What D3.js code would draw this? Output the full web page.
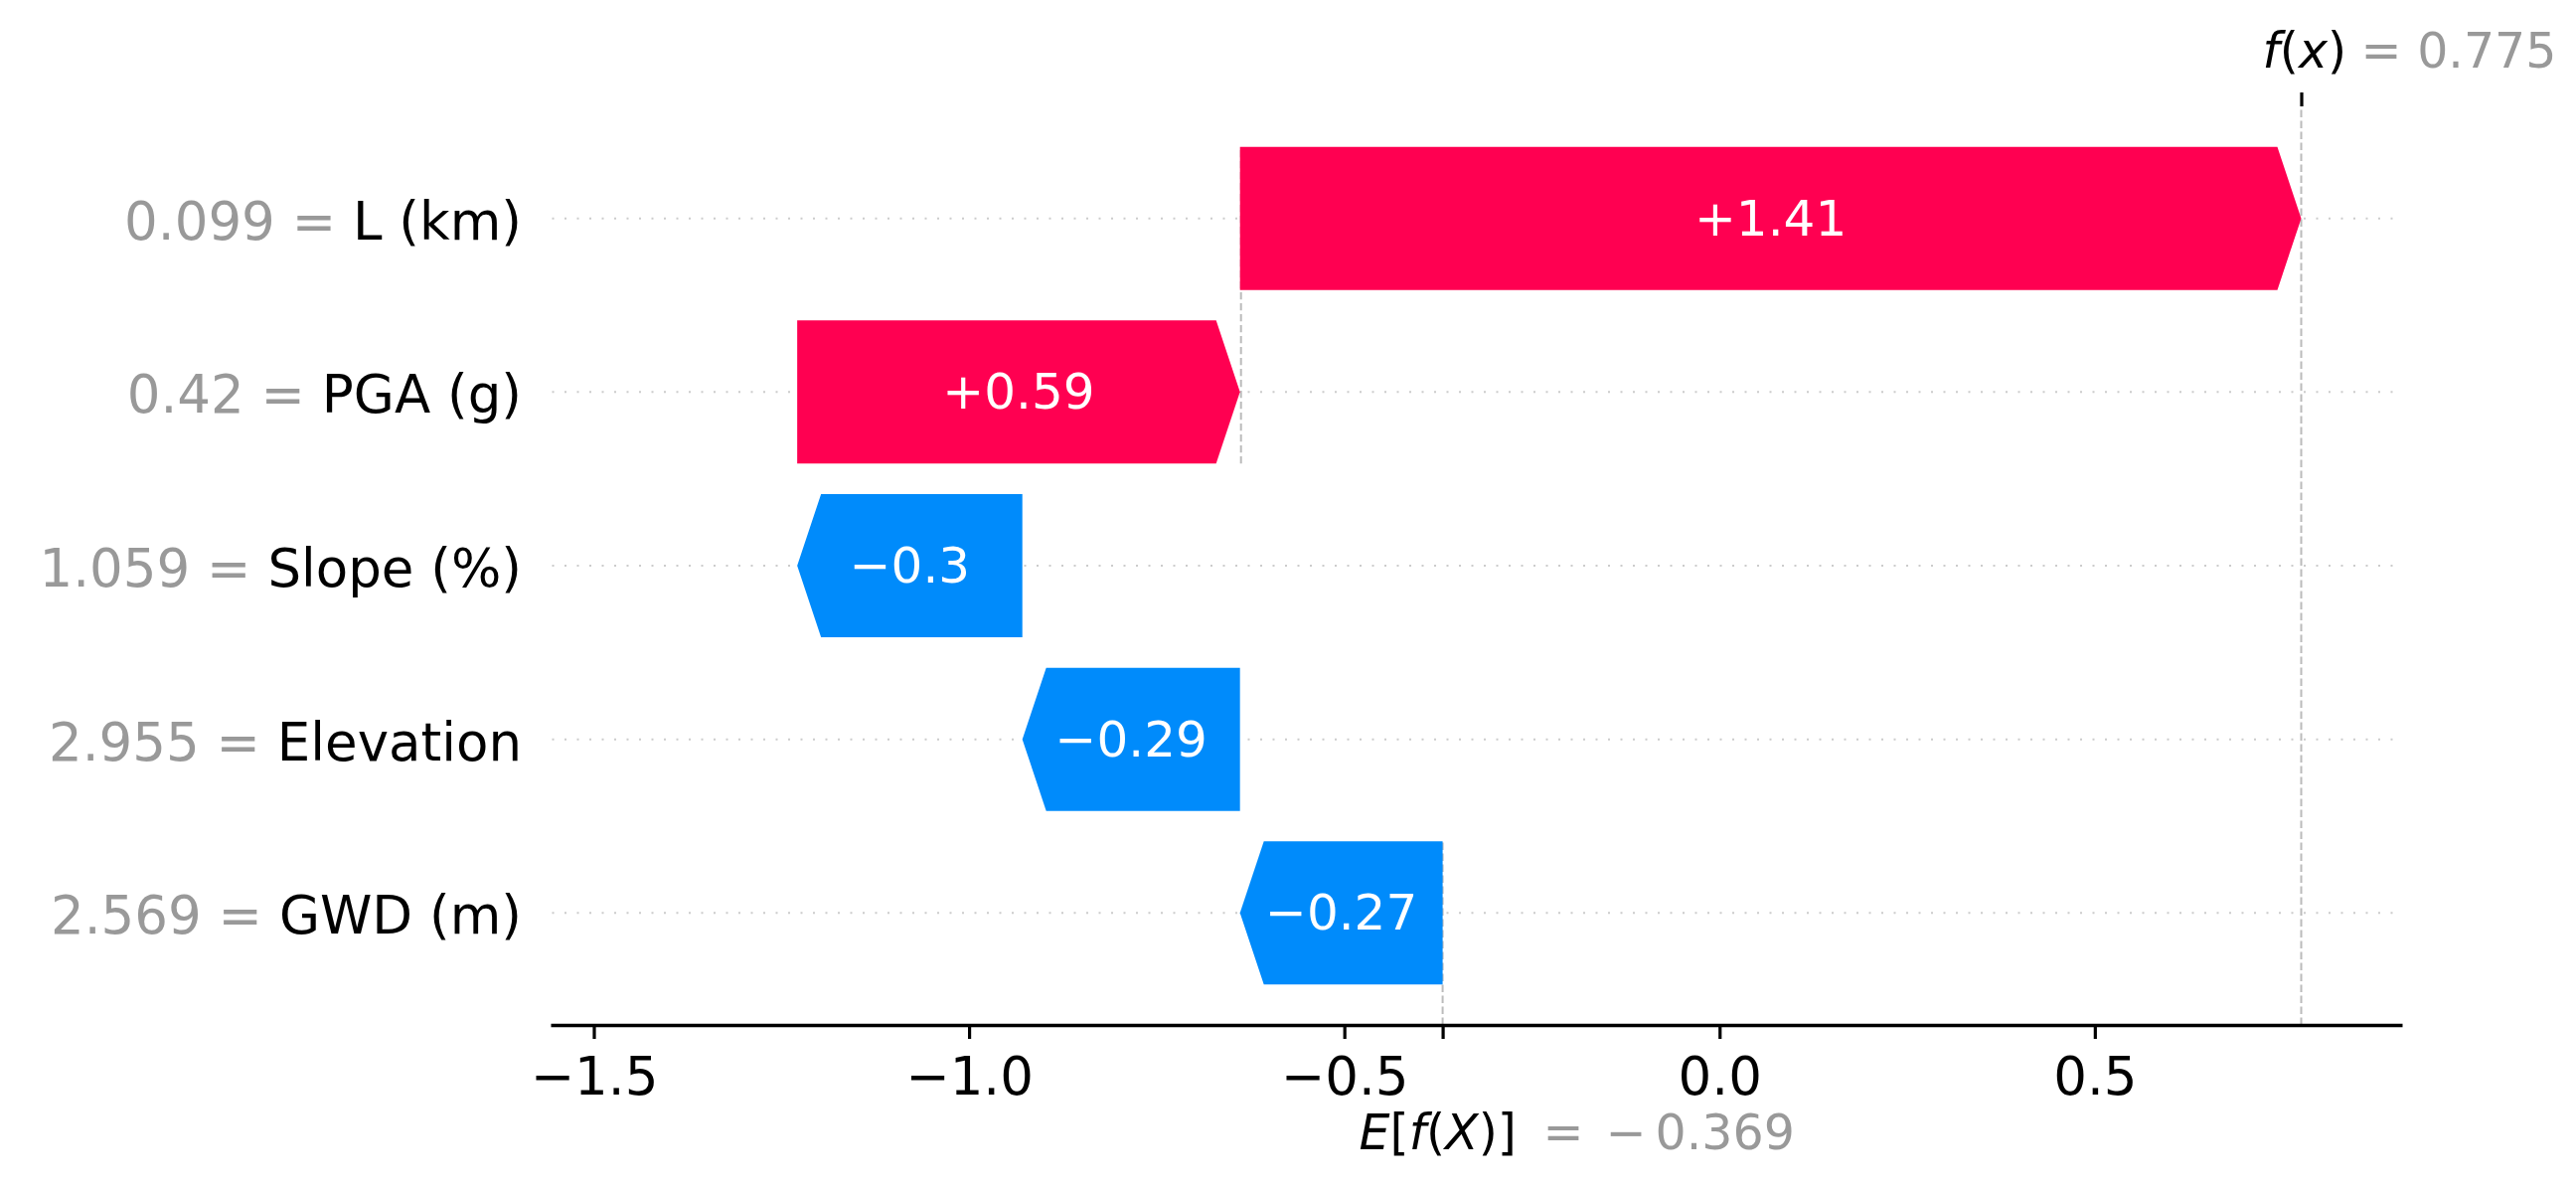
<!DOCTYPE html>
<html>
<head>
<meta charset="utf-8">
<script src="https://cdn.jsdelivr.net/npm/d3@7"></script>
<style>
  body { margin: 0; background: #fff; }
  text { font-family: "DejaVu Sans", sans-serif; }
</style>
</head>
<body>
<svg id="chart" width="2592" height="1198"></svg>
<script>
// features listed from top row to bottom row
let featureNames = ["L (km)", "PGA (g)", "Slope (%)", "Elevation", "GWD (m)"];
let featureValues = ["0.099", "0.42", "1.059", "2.955", "2.569"];
let shapValues = [1.414, 0.59, -0.30, -0.29, -0.27];
let baseValue = -0.369;
let fxValue = 0.775;
let xTickValues = [-1.5, -1.0, -0.5, 0.0, 0.5];

let posColor = "#ff0051";
let negColor = "#008bfb";
let gray = "#999999";

let svg = d3.select("#chart");
svg.append("rect").attr("width", 2592).attr("height", 1198).attr("fill", "#fff");

let plotLeft = 554, plotRight = 2417, plotTop = 107, plotBottom = 1031;
let n = featureNames.length;

let x = d3.scaleLinear().domain([-1.5576, 0.9094]).range([plotLeft, plotRight]);
// row 0 is the bottom feature
let y = d3.scaleLinear().domain([-0.645, n - 1 + 0.645]).range([plotBottom, plotTop]);
let barHalf = 0.412;
let headLen = 24;

// label formatting like shap: two decimals, trailing zeros dropped
function fmt(v) {
    let s = d3.format("+.2f")(v);
    if (s.includes(".")) s = s.replace(/0+$/, "").replace(/\.$/, "");
    return s;
}

// bar extents, stacked up from the base value at the bottom row
let bars = [];
let cur = baseValue;
for (let i = n - 1; i >= 0; i--) {
    bars.push({
        name: featureNames[i],
        fval: featureValues[i],
        val: shapValues[i],
        row: n - 1 - i,
        start: cur,
        end: cur + shapValues[i]
    });
    cur += shapValues[i];
}

// dotted row guides
svg.append("g").selectAll("line").data(bars).join("line")
    .attr("x1", plotLeft + 1.5).attr("x2", plotRight)
    .attr("y1", d => y(d.row)).attr("y2", d => y(d.row))
    .attr("stroke", "#cccccc").attr("stroke-width", 2)
    .attr("stroke-dasharray", "2,10.5");

// dashed reference lines
let dashed = svg.append("g").attr("stroke", "#bbbbbb").attr("stroke-width", 2)
    .attr("stroke-dasharray", "7.4,3.6");
dashed.append("line")
    .attr("x1", x(fxValue)).attr("x2", x(fxValue))
    .attr("y1", plotBottom).attr("y2", plotTop);
dashed.append("line")
    .attr("x1", x(baseValue)).attr("x2", x(baseValue))
    .attr("y1", plotBottom).attr("y2", y(-0.645 + (n + 0.29) / n));
let topBar = bars[n - 1];
dashed.append("line")
    .attr("x1", x(topBar.start) + 1).attr("x2", x(topBar.start) + 1)
    .attr("y1", y(topBar.row - 1 - barHalf)).attr("y2", y(topBar.row + barHalf));

// arrow shaped bars
function arrowPath(d) {
    let x0 = x(d.start), x1 = x(d.end);
    let dir = x1 > x0 ? 1 : -1;
    let hl = Math.min(headLen, Math.abs(x1 - x0));
    let yt = y(d.row + barHalf), yb = y(d.row - barHalf), ym = y(d.row);
    return "M" + x0 + "," + yt + "L" + (x1 - dir * hl) + "," + yt + "L" + x1 + "," + ym +
        "L" + (x1 - dir * hl) + "," + yb + "L" + x0 + "," + yb + "Z";
}
svg.append("g").selectAll("path").data(bars).join("path")
    .attr("d", arrowPath)
    .attr("fill", d => d.val >= 0 ? posColor : negColor);

svg.append("g").selectAll("text").data(bars).join("text")
    .attr("x", d => (x(d.start) + x(d.end)) / 2)
    .attr("y", d => y(d.row) + 17)
    .attr("text-anchor", "middle")
    .attr("font-size", 50)
    .attr("fill", "#fff")
    .text(d => fmt(d.val));

// feature labels on the left
let ylab = svg.append("g").selectAll("text").data(bars).join("text")
    .attr("x", 525)
    .attr("y", d => y(d.row) + 21)
    .attr("text-anchor", "end")
    .attr("font-size", 53);
ylab.append("tspan").attr("fill", gray).text(d => d.fval + " = ");
ylab.append("tspan").attr("fill", "#000").text(d => d.name);

// bottom axis
let xAxis = svg.append("g").attr("transform", "translate(0," + plotBottom + ")")
    .call(d3.axisBottom(x).tickValues(xTickValues).tickFormat(d3.format(".1f"))
        .tickSize(14).tickSizeOuter(0).tickPadding(18));
xAxis.select(".domain").attr("stroke-width", 3.4);
xAxis.selectAll(".tick line").attr("stroke-width", 3.2);
xAxis.selectAll(".tick text").attr("font-size", 53).attr("font-family", "DejaVu Sans").attr("fill", "#000");

// tick at the expected value
let baseAxis = svg.append("g").attr("transform", "translate(0," + plotBottom + ")")
    .call(d3.axisBottom(x).tickValues([baseValue]).tickFormat("").tickSize(14));
baseAxis.select(".domain").remove();
baseAxis.selectAll(".tick line").attr("stroke-width", 3.2);

// tick at f(x) on top
let topAxis = svg.append("g").attr("transform", "translate(0," + plotTop + ")")
    .call(d3.axisTop(x).tickValues([fxValue]).tickFormat("").tickSize(14));
topAxis.select(".domain").remove();
topAxis.selectAll(".tick line").attr("stroke-width", 3.2);

// f(x) label
let fxText = svg.append("text").attr("x", x(fxValue) - 39).attr("y", 68).attr("font-size", 49);
fxText.append("tspan").attr("font-style", "italic").text("f");
fxText.append("tspan").text("(");
fxText.append("tspan").attr("font-style", "italic").text("x");
fxText.append("tspan").text(")");
svg.append("text").attr("x", x(fxValue) + 60).attr("y", 68).attr("font-size", 49)
    .attr("fill", gray).text("= " + d3.format(".3f")(fxValue));

// E[f(X)] label
let eText = svg.append("text").attr("x", x(baseValue) - 84).attr("y", 1156).attr("font-size", 49);
eText.append("tspan").attr("font-style", "italic").text("E");
eText.append("tspan").text("[");
eText.append("tspan").attr("font-style", "italic").text("f");
eText.append("tspan").text("(");
eText.append("tspan").attr("font-style", "italic").text("X");
eText.append("tspan").text(")]");
svg.append("text").attr("x", x(baseValue) + 101).attr("y", 1156).attr("font-size", 49)
    .attr("fill", gray).text("=");
svg.append("text").attr("x", x(baseValue) + 164).attr("y", 1156).attr("font-size", 49)
    .attr("fill", gray).text("\u2212");
svg.append("text").attr("x", x(baseValue) + 214).attr("y", 1156).attr("font-size", 49)
    .attr("fill", gray).text(d3.format(".3f")(Math.abs(baseValue)));
</script>
</body>
</html>
